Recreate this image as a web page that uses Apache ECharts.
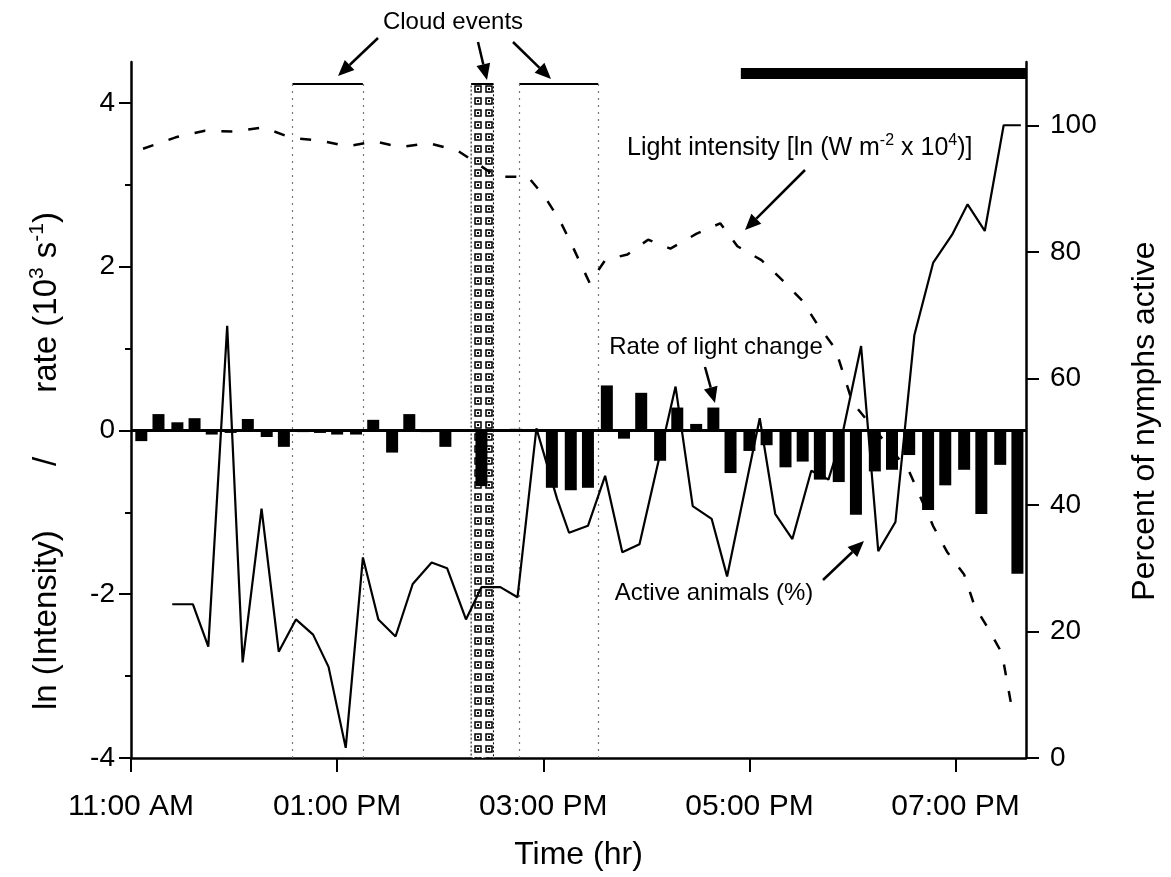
<!DOCTYPE html>
<html>
<head>
<meta charset="utf-8">
<script src="https://cdn.jsdelivr.net/npm/echarts@6.0.0/dist/echarts.min.js"></script>
<style>
  html, body { margin: 0; padding: 0; background: #fff; }
  #chart { width: 1171px; height: 877px; }
</style>
</head>
<body>
<div id="chart"></div>
<script>
// time is minutes after 11:00 AM
var barTimes = [6, 16, 27, 37, 47, 58, 68, 79, 89, 100, 110, 120, 131, 141, 152, 162, 172, 183, 193, 204,
  214, 224, 235, 245, 256, 266, 277, 287, 297, 308, 318, 329, 339, 349, 360, 370, 381, 391, 401, 412,
  422, 433, 443, 453, 464, 474, 485, 495, 506, 516]
var rateValues = [-0.13, 0.2, 0.1, 0.15, -0.05, -0.03, 0.14, -0.08, -0.2, -0.02, -0.03, -0.05, -0.05, 0.13, -0.27, 0.2, -0.02, -0.2, 0, -0.68,
  0, 0.02, 0, -0.7, -0.73, -0.7, 0.55, -0.1, 0.46, -0.37, 0.28, 0.08, 0.28, -0.52, -0.25, -0.18, -0.45, -0.38, -0.6, -0.63,
  -1.03, -0.5, -0.48, -0.3, -0.97, -0.67, -0.48, -1.02, -0.42, -1.75]

var lightTimes = [7, 26, 43, 59, 77, 94, 110, 126, 142, 157, 173, 190, 213, 231, 241, 250, 257, 267, 276, 289,
  301, 314, 329, 343, 353, 367, 379, 391, 400, 410, 415, 420, 453, 467, 475, 485, 491, 499, 507, 510, 513]
var lightValues = [3.44, 3.58, 3.66, 3.65, 3.7, 3.57, 3.54, 3.47, 3.53, 3.46, 3.51, 3.42, 3.1, 3.1, 2.85, 2.55, 2.25, 1.8, 2.08, 2.15,
  2.33, 2.22, 2.4, 2.53, 2.25, 2.08, 1.84, 1.58, 1.28, 1.0, 0.67, 0.34, -0.5, -1.17, -1.48, -1.76, -2.14, -2.42, -2.72, -3.07, -3.42]

var activeTimes = [24, 36, 45, 56, 65, 76, 86, 96, 106, 115, 125, 135, 144, 154, 164, 175, 184, 195, 204, 215,
  225, 236, 248, 255, 266, 276, 286, 296, 317, 327, 338, 347, 366, 375, 385, 396, 406, 414, 425, 435,
  445, 456, 467, 478, 487, 497, 508, 518]
var activePct = [24.3, 24.3, 17.6, 68.3, 15.1, 39.4, 16.8, 21.9, 19.5, 14.4, 1.6, 31.7, 21.9, 19.2, 27.5, 30.9, 30.0, 21.9, 27.0, 27.0,
  25.4, 52.1, 41.0, 35.6, 36.7, 44.6, 32.5, 33.8, 58.7, 39.8, 37.8, 28.7, 53.7, 38.6, 34.6, 45.4, 44, 51, 65.1, 32.7,
  37.3, 66.8, 78.3, 82.7, 87.5, 83.3, 100, 100]

var cloudSpans = [[94, 135], [226, 272]]
var hatchSpan = [198, 211]
var cloudLevel = 4.23
var nightSpan = [355, 521]
var nightLevel = 4.36

var xTicks = [0, 120, 240, 360, 480]
var leftTicks = [-4, -2, 0, 2, 4]
var leftMinorTicks = [-3, -1, 1, 3]
var rightTicks = [0, 20, 40, 60, 80, 100]

var FONT = "'Liberation Sans', Arial, Helvetica, sans-serif"

function clockLabel(m) {
  var h = 11 + m / 60
  var hh = ((h + 11) % 12) + 1
  return (hh < 10 ? '0' : '') + hh + ':00 ' + (h < 12 ? 'AM' : 'PM')
}

function hatchPattern() {
  var c = document.createElement('canvas')
  c.width = 11
  c.height = 12
  var g = c.getContext('2d')
  g.fillStyle = '#fff'
  g.fillRect(0, 0, 11, 12)
  g.strokeStyle = '#000'
  g.lineWidth = 1.5
  g.strokeRect(2, 2, 6, 6)
  g.fillStyle = '#000'
  g.fillRect(4, 4, 2, 2)
  return c
}

function arrow(x1, y1, x2, y2) {
  var a = Math.atan2(y2 - y1, x2 - x1)
  var L = 16, W = 7
  var bx = x2 - L * Math.cos(a)
  var by = y2 - L * Math.sin(a)
  return [
    { type: 'line', shape: { x1: x1, y1: y1, x2: bx, y2: by }, style: { stroke: '#000', lineWidth: 2.5 } },
    { type: 'polygon', shape: { points: [[x2, y2], [bx - W * Math.sin(a), by + W * Math.cos(a)], [bx + W * Math.sin(a), by - W * Math.cos(a)]] }, style: { fill: '#000' } }
  ]
}

function annotation(text, x, y, align, size) {
  size = size || 24
  return {
    type: 'text', x: x, y: y,
    style: {
      text: text, fill: '#000', font: size + 'px ' + FONT, align: align || 'center', verticalAlign: 'middle',
      rich: { n: { fontSize: size, fontFamily: FONT, lineHeight: 30 }, sup: { fontSize: 16, fontFamily: FONT, verticalAlign: 'top', lineHeight: 30 } }
    }
  }
}

var cloudLines = []
cloudSpans.forEach(function(s) {
  cloudLines.push([{ coord: [s[0], cloudLevel], lineStyle: { type: 'solid', color: '#000', width: 2 } }, { coord: [s[1], cloudLevel] }])
  cloudLines.push([{ coord: [s[0], cloudLevel], lineStyle: { type: [2, 5], color: '#777', width: 1.2 } }, { coord: [s[0], -4] }])
  cloudLines.push([{ coord: [s[1], cloudLevel], lineStyle: { type: [2, 5], color: '#777', width: 1.2 } }, { coord: [s[1], -4] }])
})
cloudLines.push([{ coord: [hatchSpan[0], cloudLevel], lineStyle: { type: 'solid', color: '#000', width: 2 } }, { coord: [hatchSpan[1], cloudLevel] }])
cloudLines.push([{ coord: [0, 0], lineStyle: { type: 'solid', color: '#000', width: 3 } }, { coord: [521, 0] }])

var graphics = []
  .concat(arrow(378, 38, 338, 76))
  .concat(arrow(478, 42, 487, 80))
  .concat(arrow(513, 42, 551, 79))
  .concat(arrow(805, 170, 745, 230))
  .concat(arrow(705, 367, 715, 403))
  .concat(arrow(823, 580, 864, 541))
graphics.push(annotation('Cloud events', 453, 22))
graphics.push(annotation('{n|Light intensity [ln (W m}{sup|-2}{n| x 10}{sup|4}{n|)]}', 627, 148, 'left', 25))
graphics.push(annotation('Rate of light change', 716, 347))
graphics.push(annotation('Active animals (%)', 714, 593))

var chart = echarts.init(document.getElementById('chart'), null, { renderer: 'canvas' })

var option = {
  backgroundColor: '#fff',
  animation: false,
  textStyle: { fontFamily: FONT, color: '#000' },
  grid: { left: 131, right: 145, top: 62, bottom: 119, containLabel: false, outerBoundsMode: 'none' },
  xAxis: {
    type: 'value', min: 0, max: 521,
    name: 'Time (hr)', nameLocation: 'middle', nameGap: 81, nameMoveOverlap: false,
    nameTextStyle: { fontSize: 32, color: '#000', fontFamily: FONT },
    axisLine: { show: true, onZero: false, lineStyle: { color: '#000', width: 2.5 } },
    axisTick: { show: true, length: 14, customValues: xTicks, lineStyle: { color: '#000', width: 2 } },
    axisLabel: { customValues: xTicks, formatter: clockLabel, fontSize: 30, color: '#000', margin: 34, fontFamily: FONT },
    splitLine: { show: false }
  },
  yAxis: [
    {
      type: 'value', min: -4, max: 4.5, position: 'left',
      name: '{n|ln (Intensity)       /       rate (10}{sup|3}{n| s}{sup|-1}{n|)}',
      nameLocation: 'middle', nameGap: 64, nameRotate: 90,
      nameTextStyle: {
        padding: [0, 102, 0, 0],
        rich: { n: { fontSize: 33, fontFamily: FONT, color: '#000', lineHeight: 40 }, sup: { fontSize: 21, fontFamily: FONT, color: '#000', verticalAlign: 'top', lineHeight: 40 } }
      },
      axisLine: { show: true, onZero: false, lineStyle: { color: '#000', width: 2.5 } },
      axisTick: { show: true, length: 12, customValues: leftTicks, lineStyle: { color: '#000', width: 2 } },
      axisLabel: { customValues: leftTicks, fontSize: 28, color: '#000', margin: 16, fontFamily: FONT },
      splitLine: { show: false }
    },
    {
      type: 'value', min: 0, max: 110, position: 'right',
      name: 'Percent of nymphs active', nameLocation: 'middle', nameGap: 103, nameRotate: 90,
      nameTextStyle: { fontSize: 32, color: '#000', fontFamily: FONT, padding: [0, 22, 0, 0] },
      axisLine: { show: true, onZero: false, lineStyle: { color: '#000', width: 2.5 } },
      axisTick: { show: true, length: 13, customValues: rightTicks, lineStyle: { color: '#000', width: 2 } },
      axisLabel: { customValues: rightTicks, fontSize: 28, color: '#000', margin: 24, fontFamily: FONT },
      splitLine: { show: false }
    },
    {
      type: 'value', min: -4, max: 4.5, position: 'left',
      axisLine: { show: false },
      axisTick: { show: true, length: 6, customValues: leftMinorTicks, lineStyle: { color: '#000', width: 2 } },
      axisLabel: { show: false },
      splitLine: { show: false }
    }
  ],
  series: [
    {
      name: 'Rate of light change', type: 'bar', xAxisIndex: 0, yAxisIndex: 0,
      barWidth: 12, itemStyle: { color: '#000' },
      data: barTimes.map(function(t, i) { return [t, rateValues[i]] }),
      markLine: { silent: true, symbol: ['none', 'none'], label: { show: false }, data: cloudLines },
      markArea: {
        silent: true,
        itemStyle: { color: { image: hatchPattern(), repeat: 'repeat' }, borderColor: '#000', borderWidth: 1, borderType: [2, 2] },
        data: [[{ coord: [hatchSpan[0], cloudLevel] }, { coord: [hatchSpan[1], -4] }]]
      },
      z: 3
    },
    {
      name: 'Light intensity', type: 'line', yAxisIndex: 0, symbol: 'none',
      lineStyle: { color: '#000', width: 2.5, type: [11, 16] },
      data: lightTimes.map(function(t, i) { return [t, lightValues[i]] }),
      z: 4
    },
    {
      name: 'Active animals (%)', type: 'line', yAxisIndex: 1, symbol: 'none',
      lineStyle: { color: '#000', width: 2.2 },
      data: activeTimes.map(function(t, i) { return [t, activePct[i]] }),
      z: 5
    },
    {
      name: 'Night', type: 'line', yAxisIndex: 0, symbol: 'none',
      lineStyle: { color: '#000', width: 11, cap: 'butt' },
      data: [[nightSpan[0], nightLevel], [nightSpan[1], nightLevel]],
      z: 5
    }
  ],
  graphic: { elements: graphics }
}

chart.setOption(option)
</script>
</body>
</html>
